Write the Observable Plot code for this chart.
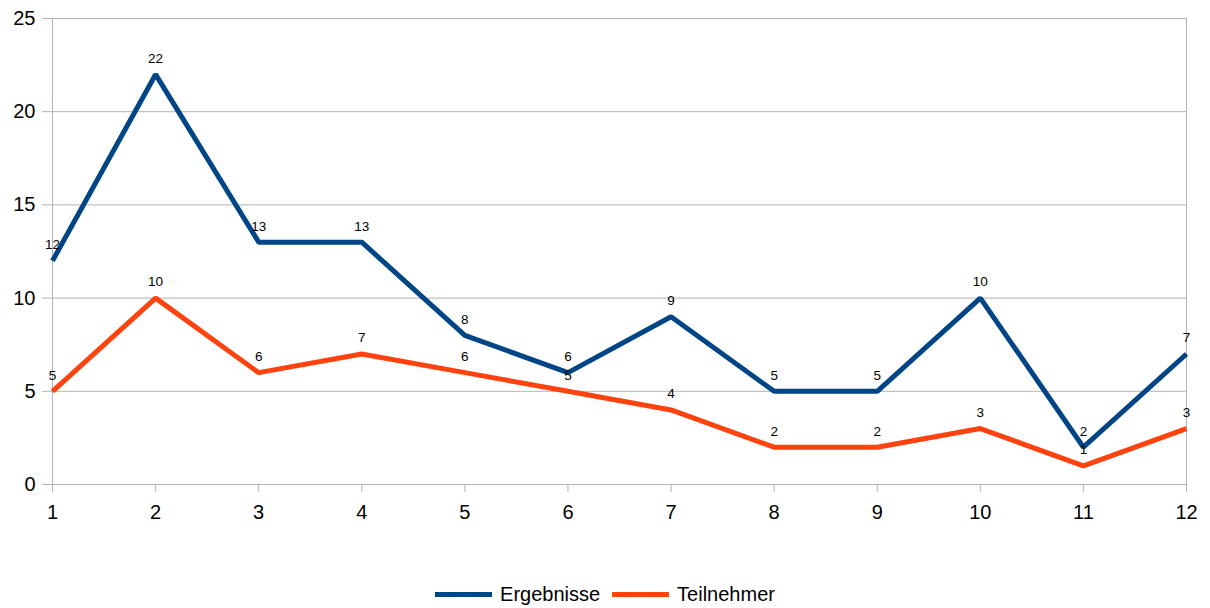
<!DOCTYPE html>
<html><head><meta charset="utf-8">
<script src="https://cdn.jsdelivr.net/npm/d3@7"></script>
<script src="https://cdn.jsdelivr.net/npm/@observablehq/plot@0.6"></script>
<style>
body{margin:0;background:#fff;font-family:"Liberation Sans",Arial,sans-serif;}
#legend{position:absolute;top:582px;left:0;width:1210px;height:24px;display:flex;justify-content:center;align-items:center;font-size:20px;color:#000;}
.item{display:flex;align-items:center;margin:0 6px;}
.sw{width:57px;height:5px;margin-right:8px;}
</style></head><body>
<div id="chart"></div>
<div id="legend"></div>
<script>
const months = [1,2,3,4,5,6,7,8,9,10,11,12];
const ergebnisse = [12,22,13,13,8,6,9,5,5,10,2,7];
const teilnehmer = [5,10,6,7,6,5,4,2,2,3,1,3];
const seriesNames = ["Ergebnisse","Teilnehmer"];
const colors = ["#004586","#ff420e"];
const yTicks = [0,5,10,15,20,25];

const data = [];
months.forEach((m,i)=>{ data.push({x:m,y:ergebnisse[i],s:seriesNames[0]}); data.push({x:m,y:teilnehmer[i],s:seriesNames[1]}); });

const plot = Plot.plot({
  width:1210, height:545,
  marginLeft:52, marginRight:24, marginTop:18, marginBottom:61,
  style:{fontFamily:"Liberation Sans, Arial, sans-serif", background:"#fff"},
  x:{domain:[1,12], ticks:months, label:null},
  y:{domain:[0,25], ticks:yTicks, label:null},
  color:{domain:seriesNames, range:colors},
  marks:[
    Plot.gridY(yTicks,{stroke:"#b3b3b3", strokeOpacity:1}),
    Plot.frame({stroke:"#b3b3b3"}),
    Plot.axisY(yTicks,{tickSize:10, stroke:"#b3b3b3", fontSize:20, fill:"#000", tickPadding:7}),
    Plot.axisX(months,{tickSize:8, stroke:"#b3b3b3", fontSize:20, fill:"#000", tickPadding:12}),
    Plot.line(data,{x:"x", y:"y", stroke:"s", z:"s", strokeWidth:5, strokeLinejoin:"miter", strokeLinecap:"butt"}),
    Plot.text(data,{x:"x", y:"y", text:d=>String(d.y), dy:-16, fontSize:13.5, fill:"#000"})
  ]
});
document.getElementById("chart").appendChild(plot);

const leg = document.getElementById("legend");
seriesNames.forEach((n,i)=>{
  const it=document.createElement("div"); it.className="item";
  const sw=document.createElement("div"); sw.className="sw"; sw.style.background=colors[i];
  const t=document.createElement("span"); t.textContent=n;
  it.appendChild(sw); it.appendChild(t); leg.appendChild(it);
});
</script>
</body></html>
